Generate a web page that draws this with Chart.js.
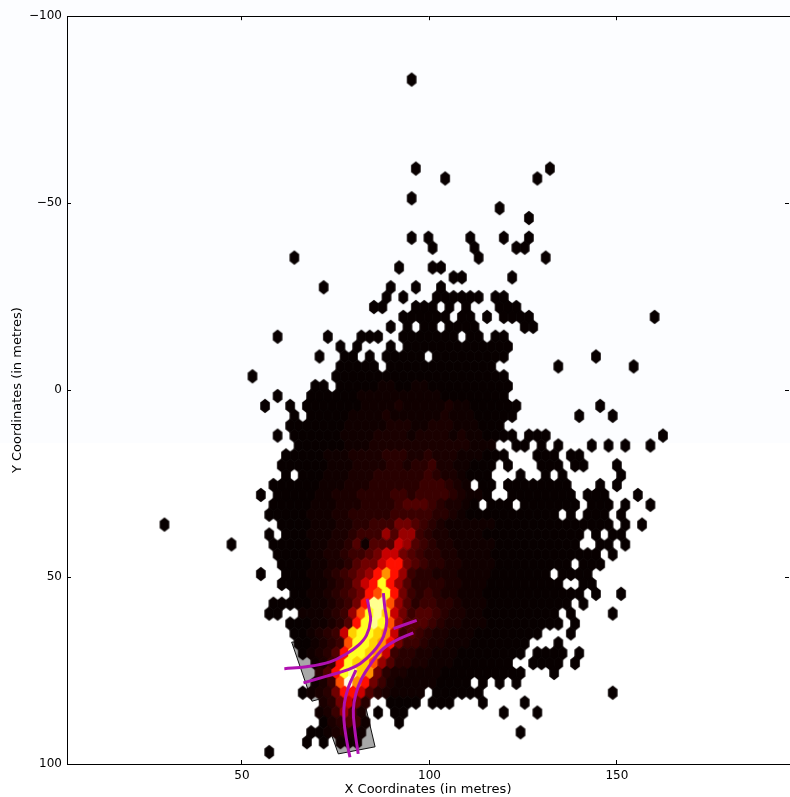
<!DOCTYPE html>
<html>
<head>
<meta charset="utf-8">
<script src="https://cdn.jsdelivr.net/npm/chart.js@4/dist/chart.umd.min.js"></script>
<style>
    body { margin: 0; background: #fff; }
    canvas { display: block; }
</style>
</head>
<body>
<canvas id="hexChart" width="790" height="797"></canvas>
<script>
// Axes
const xTickValues = [50, 100, 150];
const yTickValues = [-100, -50, 0, 50, 100];
const xRange = [3.33, 195.9];
const yRange = [-100, 100];

// Hex grid in metres: first column of row 0, spacing between columns and rows
const gridX0 = 28.21;
const gridDX = 2.2347;
const gridY0 = -83.05;
const gridDY = 2.645;

// Occupied columns for each hex row
const hexRowsOccupied = {
    0: "30", 9: "30 46", 10: "34 45", 12: "30", 13: "40", 14: "44",
    16: "30 32 37 41 44", 17: "32 37 42 43", 18: "16 38 46", 19: "28 32 33",
    20: "35 36 42", 21: "19 27 30 33", 22: "27 29 33-38 40 41",
    23: "25 26 30 31 32 34 36 40 41 42", 24: "29-34 36 37 39 41-44 59",
    25: "27 29 31 32 34-37 43 44", 26: "14 20 24 25 26 29-35 37 38 40 41",
    27: "21 23 27 29-41", 28: "19 22 23 25 27-31 33-41 52", 29: "21-25 27-39 47 56",
    30: "11 21-41", 31: "18 19 21-41", 32: "14 18-41", 33: "12 15 17-42 52",
    34: "16 18-42 50 54", 35: "15-40", 36: "14 16-42 44 45 46 60",
    37: "16-39 42 43 45 47 51 53 55 58", 38: "15-41 45 46 47 49 50",
    39: "14-39 41 45 46 47 49 50 54", 40: "15 17-39 43 46 48 55",
    41: "13-36 38 39 41-48 52 54", 42: "12 14-39 42-49 51 52 53 57",
    43: "13-37 39 40 41 43-49 51 52 53 55 58", 44: "13-47 49 51 52 53 55",
    45: "0 14-53 55 57", 46: "13 15-50 52 54 55", 47: "8 13-49 52 53 55",
    48: "14-52 54", 49: "14-48 50 51 52", 50: "12 15-46 48-51", 51: "14-47 50 51",
    52: "16-50 52 55", 53: "13-48 50", 54: "13 14 17-47 49 54", 55: "15-47 49",
    56: "16-45 49", 57: "16-43 47", 58: "17-43 45-48 50", 59: "18-41 44-47 49",
    60: "19-43 47", 61: "18-36 38 40 42", 62: "17-31 33-38 54",
    63: "19-24 27-30 32 33 34 38 43", 64: "19-24 26 28 29 41 45", 65: "19-24 28",
    66: "18-24 43", 67: "17 19 21 22 23", 68: "13"
};

// Density level (hex digit) of the brighter cells, "startColumn:levels". Everything else is level 0
const hexRowsHeat = {
    31: "26:1100110", 32: "24:1111111111", 33: "24:1111211111211", 34: "23:111121111112111",
    35: "22:1111122211222111", 36: "22:11112222122221211", 37: "22:111222222222222111",
    38: "20:1112222333223222111", 39: "20:11122223323342211", 40: "20:11122233333343221",
    41: "19:1112223333334443211", 42: "19:11222333344344443211", 43: "18:1112223333455543221",
    44: "18:1112233333444443321",
    45: "18:11 20:1223344466 30:5432111111", 46: "18:11 20:1223444757 30:7432211110",
    47: "18:11 20:2235155587 30:5432211111", 48: "18:11 20:2234456886 30:5433221111",
    49: "18:11 20:2235668996 30:5433221111", 50: "18:11 20:2345679b97 30:4332221111",
    51: "18:11 20:234689d975 30:3333221110", 52: "18:11 20:234569ad96 30:4343221110",
    53: "18:11 20:23469eea75 30:3443321110", 54: "17:111 20:2347adec86 30:4554322110",
    55: "18:11 20:2359deda75 30:5543221110", 56: "18:12 20:348cddcb84 30:5432211100",
    57: "18:12 20:34addcb964 30:4322111000", 58: "18:12 20:359ddcb843 30:3221110000",
    59: "18:12 20:49dcca7533 30:2211100000", 60: "19:3 20:59decb6322 30:1111000000",
    61: "18:12 20:4afb964211 30:1110000000", 62: "18:12 20:3699853211 30:1100000000",
    63: "19:2 20:36863", 64: "19:1 20:24752", 65: "20:23541", 66: "20:12321", 67: "21:111"
};

// Colours of the density levels, from the hot colormap
const hotColors = ['#080000', '#100000', '#1a0000', '#280000', '#3a0000', '#500000', '#700000', '#980000',
    '#c80000', '#ff1000', '#ff5000', '#ff9000', '#ffd000', '#ffff20', '#ffff90', '#ffffe0'];

// Grey road outline under the hexes
const roadX = [63.25, 68.66, 70.5, 75.7, 85.5, 83.2, 77.5, 63.25];
const roadY = [67.4, 83.2, 82.7, 97.3, 95.4, 85.6, 66.9, 67.4];

// Magenta lanes
const lanes = [
    { x: [61.3, 67.2, 73.5, 77.9, 81.0, 83.2, 84.3, 83.9, 83.4], y: [74.5, 74.0, 72.7, 70.5, 68.3, 65.6, 61.6, 58.5, 55.8] },
    { x: [66.4, 72.6, 77.9, 81.5, 85.0, 87.7, 88.6, 88.1, 87.7], y: [78.3, 76.5, 74.9, 73.2, 70.0, 66.0, 62.0, 58.1, 54.3] },
    { x: [90.4, 96.6], y: [63.8, 61.6] },
    { x: [95.7, 90.8, 87.2, 84.1, 81.9, 80.4, 79.7, 80.1, 81.0], y: [64.9, 67.1, 69.6, 73.6, 77.2, 81.2, 85.6, 90.9, 97.3] },
    { x: [80.4, 78.4, 77.3, 77.2, 77.9, 78.8], y: [74.9, 79.4, 83.8, 88.3, 93.6, 98.2] }
];

function toPoints(xs, ys) {
    return xs.map(function (x, i) { return { x: x, y: ys[i] }; });
}

// Turns "21-25 27" into a list of columns
function parseColumns(text) {
    let cols = [];
    text.split(' ').forEach(function (part) {
        let ends = part.split('-').map(Number);
        let last = ends.length > 1 ? ends[1] : ends[0];
        for (let c = ends[0]; c <= last; c++) cols.push(c);
    });
    return cols;
}

function heatForRow(row) {
    let heat = {};
    if (!hexRowsHeat[row]) return heat;
    hexRowsHeat[row].split(' ').forEach(function (run) {
        let parts = run.split(':');
        for (let i = 0; i < parts[1].length; i++) {
            heat[Number(parts[0]) + i] = parseInt(parts[1][i], 16);
        }
    });
    return heat;
}

let hexPoints = [];
Object.keys(hexRowsOccupied).forEach(function (key) {
    let row = Number(key);
    let heat = heatForRow(row);
    parseColumns(hexRowsOccupied[key]).forEach(function (col) {
        hexPoints.push({
            x: gridX0 + (col + (row % 2 ? 0.5 : 0)) * gridDX,
            y: gridY0 + row * gridDY,
            level: heat[col] || 0
        });
    });
});

// One small canvas per level, used as point style
function makeHexImage(color) {
    let c = document.createElement('canvas');
    c.width = 14;
    c.height = 18;
    let g = c.getContext('2d');
    let w = 4.8, h = 7.2;
    g.fillStyle = color;
    g.beginPath();
    g.moveTo(7, 9 - h);
    g.lineTo(7 + w, 9 - h / 2);
    g.lineTo(7 + w, 9 + h / 2);
    g.lineTo(7, 9 + h);
    g.lineTo(7 - w, 9 + h / 2);
    g.lineTo(7 - w, 9 - h / 2);
    g.closePath();
    g.fill();
    return c;
}
const hexImages = hotColors.map(makeHexImage);

const tickFont = { family: 'DejaVu Sans', size: 12 };
const titleFont = { family: 'DejaVu Sans', size: 13 };

function setTicks(values) {
    return function (scale) {
        scale.ticks = values.map(function (v) { return { value: v }; });
    };
}

function axisGrid() {
    return { drawOnChartArea: false, drawTicks: true, tickLength: -4, tickColor: '#000', tickWidth: 1 };
}
const axisBorder = { display: true, color: '#000', width: 1 };

let datasets = [{
    label: 'road',
    data: toPoints(roadX, roadY),
    showLine: true,
    fill: 'shape',
    tension: 0,
    backgroundColor: '#a8a8a8',
    borderColor: '#111',
    borderWidth: 1,
    pointRadius: 0,
    order: 3
}, {
    label: 'hexbin',
    data: hexPoints,
    pointStyle: function (ctx) { return hexImages[ctx.raw ? ctx.raw.level : 0]; },
    order: 2
}];

lanes.forEach(function (lane, i) {
    datasets.push({
        label: 'lane ' + (i + 1),
        data: toPoints(lane.x, lane.y),
        showLine: true,
        fill: false,
        tension: 0.4,
        borderColor: '#b010b0',
        borderWidth: 3,
        pointRadius: 0,
        order: 1
    });
});

// Faint off-white band of the original picture
const pageBackground = {
    id: 'pageBackground',
    beforeDraw: function (chart) {
        let g = chart.ctx;
        g.save();
        g.fillStyle = '#fff';
        g.fillRect(0, 0, chart.width, chart.height);
        g.fillStyle = '#fcfdff';
        g.fillRect(0, 0, chart.width, 443);
        g.restore();
    }
};

new Chart(document.getElementById('hexChart').getContext('2d'), {
    type: 'scatter',
    data: { datasets: datasets },
    plugins: [pageBackground],
    options: {
        responsive: false,
        animation: false,
        events: [],
        layout: { padding: 0, autoPadding: false },
        plugins: { legend: { display: false }, tooltip: { enabled: false } },
        scales: {
            x: {
                type: 'linear', position: 'bottom', min: xRange[0], max: xRange[1],
                afterBuildTicks: setTicks(xTickValues),
                afterFit: function (s) { s.height = 33; },
                grid: axisGrid(), border: axisBorder,
                ticks: { color: '#000', font: tickFont, padding: 9, maxRotation: 0, callback: function (v) { return String(v); } },
                title: { display: true, text: 'X Coordinates (in metres)', color: '#000', font: titleFont, padding: { top: 0, bottom: 0 } }
            },
            y: {
                type: 'linear', position: 'left', reverse: true, min: yRange[0], max: yRange[1],
                afterBuildTicks: setTicks(yTickValues),
                afterFit: function (s) { s.width = 67; },
                grid: axisGrid(), border: axisBorder,
                ticks: { color: '#000', font: tickFont, padding: 9, callback: function (v) { return String(v).replace('-', '\u2212'); } },
                title: { display: true, text: 'Y Coordinates (in metres)', color: '#000', font: titleFont, padding: { top: 10, bottom: 0 } }
            },
            xTop: {
                type: 'linear', position: 'top', min: xRange[0], max: xRange[1],
                afterBuildTicks: setTicks(xTickValues),
                afterFit: function (s) { s.height = 14; },
                grid: axisGrid(), border: axisBorder,
                ticks: { display: false }
            },
            yRight: {
                type: 'linear', position: 'right', reverse: true, min: yRange[0], max: yRange[1],
                afterBuildTicks: setTicks(yTickValues),
                afterFit: function (s) { s.width = 1; },
                grid: axisGrid(), border: { display: false },
                ticks: { display: false }
            }
        }
    }
});
</script>
</body>
</html>
